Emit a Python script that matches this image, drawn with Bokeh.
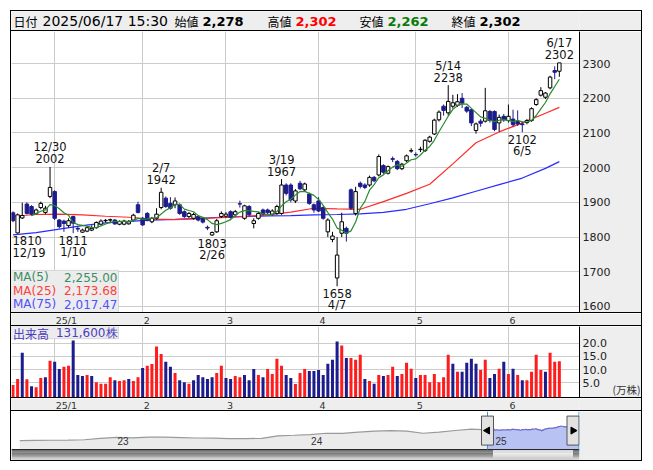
import pandas as pd
from bokeh.plotting import figure
from bokeh.layouts import column
from bokeh.models import (Range1d, FixedTicker, BoxAnnotation, ColumnDataSource,
                          PrintfTickFormatter, LinearAxis)
from bokeh.core.properties import value
from bokeh.embed import file_html
from bokeh.resources import INLINE

# ------------------------------------------------------------------ data
holidays = ["2024-12-31", "2025-01-01", "2025-01-02", "2025-01-03", "2025-01-13",
            "2025-02-11", "2025-02-24", "2025-03-20", "2025-04-29", "2025-05-05", "2025-05-06"]

opens = [1870, 1812, 1855, 1895, 1888, 1868, 1885, 1871, 1917, 1931,
         1849, 1846, 1833, 1859, 1825, 1814, 1817, 1820, 1827, 1837,
         1847, 1849, 1849, 1837, 1837, 1838, 1849, 1893, 1854, 1868,
         1844, 1854, 1885, 1912, 1897, 1893, 1893, 1873, 1859, 1854,
         1859, 1854, 1828, 1806, 1815, 1859, 1860, 1873, 1864, 1896,
         1854, 1888, 1839, 1854, 1878, 1878, 1866, 1868, 1868, 1950,
         1950, 1904, 1955, 1936, 1924, 1893, 1904, 1885, 1815, 1793,
         1682, 1811, 1825, 1936, 1868, 1955, 1950, 1950, 1972, 1979,
         2006, 1984, 2026, 2018, 1997, 2020, 2048, 2038, 2052, 2049,
         2076, 2097, 2138, 2177, 2158, 2177, 2180, 2200, 2174, 2167,
         2107, 2134, 2134, 2162, 2162, 2129, 2148, 2136, 2140, 2133,
         2126, 2130, 2136, 2182, 2209, 2203, 2230, 2280, 2278]
highs = [1874, 1868, 1899, 1900, 1892, 1882, 1902, 1890, 2002, 1935,
         1852, 1850, 1854, 1862, 1830, 1824, 1830, 1834, 1845, 1851,
         1852, 1853, 1852, 1848, 1850, 1849, 1867, 1902, 1858, 1872,
         1858, 1883, 1942, 1917, 1915, 1914, 1897, 1877, 1872, 1870,
         1863, 1857, 1833, 1816, 1852, 1874, 1872, 1877, 1878, 1905,
         1893, 1892, 1854, 1872, 1882, 1882, 1880, 1893, 1967, 1955,
         1955, 1938, 1962, 1957, 1928, 1897, 1915, 1890, 1854, 1815,
         1800, 1870, 1830, 1940, 1945, 1960, 1955, 1977, 1976, 2038,
         2010, 2006, 2032, 2022, 2014, 2038, 2056, 2044, 2060, 2082,
         2092, 2141, 2165, 2182, 2238, 2210, 2212, 2215, 2178, 2170,
         2130, 2140, 2230, 2166, 2165, 2153, 2155, 2182, 2167, 2165,
         2133, 2140, 2174, 2200, 2232, 2218, 2265, 2292, 2302]
lows = [1843, 1810, 1852, 1865, 1862, 1865, 1880, 1866, 1912, 1849,
        1825, 1815, 1828, 1811, 1815, 1812, 1814, 1817, 1824, 1834,
        1842, 1840, 1835, 1834, 1834, 1836, 1845, 1868, 1832, 1845,
        1840, 1850, 1880, 1884, 1879, 1883, 1864, 1855, 1855, 1850,
        1845, 1839, 1820, 1803, 1812, 1855, 1856, 1853, 1860, 1885,
        1850, 1860, 1825, 1850, 1862, 1866, 1862, 1864, 1864, 1920,
        1900, 1898, 1935, 1930, 1893, 1870, 1872, 1850, 1800, 1785,
        1658, 1800, 1787, 1878, 1862, 1940, 1938, 1945, 1958, 1975,
        1982, 1980, 2016, 1993, 1993, 2016, 2043, 2032, 2045, 2045,
        2072, 2094, 2133, 2150, 2150, 2170, 2175, 2172, 2158, 2120,
        2098, 2118, 2130, 2130, 2105, 2104, 2132, 2130, 2118, 2120,
        2102, 2125, 2132, 2178, 2205, 2198, 2226, 2255, 2262]
closes = [1847, 1864, 1862, 1868, 1866, 1878, 1897, 1883, 1943, 1854,
          1830, 1839, 1847, 1840, 1823, 1820, 1827, 1825, 1842, 1846,
          1848, 1850, 1838, 1845, 1846, 1844, 1863, 1871, 1835, 1849,
          1854, 1866, 1929, 1888, 1883, 1904, 1868, 1859, 1868, 1865,
          1849, 1843, 1826, 1813, 1847, 1868, 1866, 1857, 1873, 1895,
          1890, 1864, 1847, 1868, 1866, 1870, 1875, 1888, 1950, 1926,
          1907, 1933, 1939, 1953, 1897, 1878, 1875, 1854, 1849, 1803,
          1748, 1844, 1811, 1883, 1931, 1946, 1943, 1972, 1962, 2032,
          1987, 2003, 2024, 1997, 2010, 2034, 2049, 2037, 2053, 2079,
          2088, 2137, 2160, 2165, 2191, 2187, 2190, 2186, 2163, 2129,
          2126, 2128, 2164, 2136, 2110, 2145, 2138, 2148, 2124, 2126,
          2124, 2136, 2170, 2196, 2222, 2215, 2261, 2275, 2302]
volumes = [4.2, 6.5, 16.4, 6.4, 3.8, 3.4, 6.9, 7.2, 13.4, 13.0,
           10.3, 11.1, 11.5, 21.0, 8.0, 7.6, 8.0, 7.6, 5.3, 4.7,
           4.7, 7.2, 6.0, 5.7, 6.0, 6.5, 5.7, 7.2, 10.6, 11.5,
           12.1, 18.7, 15.9, 13.0, 11.1, 8.8, 6.0, 5.3, 4.7, 6.0,
           8.0, 7.2, 6.5, 7.2, 8.8, 11.5, 6.9, 6.5, 7.6, 7.2,
           8.0, 6.0, 10.3, 8.0, 7.2, 10.3, 8.4, 14.1, 11.5, 8.0,
           6.9, 4.6, 8.8, 10.3, 9.5, 9.5, 9.9, 8.0, 12.2, 13.7,
           20.6, 19.1, 14.4, 14.4, 13.7, 15.6, 6.5, 5.7, 4.7, 8.0,
           7.6, 8.0, 11.1, 7.6, 8.4, 12.6, 10.4, 6.9, 8.0, 8.0,
           5.3, 8.4, 5.3, 7.2, 15.6, 12.2, 9.2, 9.2, 12.6, 14.1,
           12.2, 9.9, 13.7, 6.9, 8.4, 10.4, 13.0, 8.4, 10.4, 8.0,
           6.0, 6.0, 9.2, 15.6, 9.9, 9.2, 16.4, 13.0, 13.16]  # 万株

ma_idx = [0, 5, 10, 15, 20, 25, 30, 35, 40, 45, 50, 55, 60, 65, 70, 75, 80, 85, 90, 95,
          100, 105, 110, 115, 118]
ma25_vals = [1860, 1865, 1866, 1864, 1860, 1857, 1852, 1850, 1853, 1856, 1860, 1864, 1872,
             1883, 1881, 1880, 1902, 1926, 1952, 2011, 2072, 2103, 2129, 2157, 2173.68]
ma75_vals = [1806, 1813, 1823, 1833, 1841, 1845, 1849, 1851, 1854, 1857, 1859, 1861, 1862,
             1864, 1865, 1867, 1871, 1880, 1896, 1913, 1932, 1951, 1970, 1998, 2017.47]

high_marks = [8, 32, 58, 94, 118]
low_marks = [1, 13, 43, 70, 110]

# navigator: monthly closes before the displayed period (Jul 2022 - Nov 2024)
nav_hist = [843, 862, 872, 891, 920, 1054, 1150, 1102, 1169, 1160, 1121, 1083, 1073, 1035,
            1025, 1054, 1293, 1341, 1408, 1533, 1514, 1629, 1724, 1782, 1724, 1533, 1629,
            1791, 1916]
nav_year_labels = ["23", "24", "25"]
nav_year_month = [6, 18]   # positions (months) of Jan 2023 / Jan 2024 in nav_hist

# ------------------------------------------------------------------ derived
dates = [d for d in pd.bdate_range("2024-12-18", "2025-06-17")
         if d.strftime("%Y-%m-%d") not in holidays]
n = len(dates)
idx = list(range(n))
month_ticks = [i for i in idx if i > 0 and dates[i].month != dates[i - 1].month]
month_labels = [(f"{dates[i].year % 100}/{dates[i].month}" if dates[i].month == 1
                 else str(dates[i].month)) for i in month_ticks]
ma5 = pd.Series(closes, dtype=float).rolling(5).mean().tolist()

FONT = "DejaVu Sans"
JFONT = "Noto Sans CJK JP"
NAVY = "#1c1c8c"
RED = "#ff1c1c"
GRAY_BG = "#eeeeee"
GRID = "#cccccc"

FW = 630          # content width of each panel (inside the 1px borders)
RB = 62           # right label strip
FRAME_W = FW - RB
DAY_PX = 4.63
x0 = -1.5 / DAY_PX
x1 = x0 + FRAME_W / DAY_PX

BORDER = {"border-left": "1px solid black", "border-right": "1px solid black",
          "border-bottom": "1px solid black"}


def base(height, xr, yr, extra_h=1, **kw):
    # css borders are drawn inside the element box (border-box), so add them to the size
    f = figure(width=FW + 2, height=height + extra_h, x_range=xr, y_range=yr,
               toolbar_location=None, output_backend="svg",
               min_border_left=0, min_border_top=0, min_border_bottom=0,
               min_border_right=RB, outline_line_color=None, **kw)
    return f


def style_axis(ax):
    ax.major_tick_line_color = None
    ax.minor_tick_line_color = None
    ax.major_tick_out = 0
    ax.major_tick_in = 0
    ax.minor_tick_out = 0
    ax.minor_tick_in = 0
    ax.major_label_standoff = 3
    ax.major_label_text_font = FONT
    ax.major_label_text_font_size = "11px"
    ax.major_label_text_color = "#222222"


# ------------------------------------------------------------------ header
hdr = base(19, Range1d(0, FRAME_W), Range1d(0, 19), extra_h=2,
           x_axis_location=None, y_axis_location=None,
           background_fill_color=GRAY_BG, border_fill_color=GRAY_BG)
hdr.grid.visible = False
hdr.styles = {"border": "1px solid black"}
last = n - 1
d_last = dates[last]
hdr_items = [
    (2, "日付", JFONT, "12px", "normal", "black"),
    (31, f"{d_last.year}/{d_last.month:02d}/{d_last.day:02d} 15:30", FONT, "14px", "normal", "black"),
    (163, "始値", JFONT, "12px", "normal", "black"),
    (191, f"{opens[last]:,}", FONT, "13px", "bold", "black"),
    (256, "高値", JFONT, "12px", "normal", "black"),
    (284, f"{highs[last]:,}", FONT, "13px", "bold", "#ff0000"),
    (348, "安値", JFONT, "12px", "normal", "black"),
    (376, f"{lows[last]:,}", FONT, "13px", "bold", "#0a7a0a"),
    (440, "終値", JFONT, "12px", "normal", "black"),
    (468, f"{closes[last]:,}", FONT, "13px", "bold", "black"),
]
for hx, t, fnt, fs, fst, col in hdr_items:
    hdr.text(x=[hx], y=[10], text=[t], text_font=value(fnt), text_font_size=fs,
             text_font_style=fst, text_color=col, text_align="left", text_baseline="middle")

# ------------------------------------------------------------------ main chart
y_bot, y_top = 1579.6, 2392.5
MAIN_H = 281
PY = MAIN_H / (y_top - y_bot)
p = base(MAIN_H, Range1d(x0, x1), Range1d(y_bot, y_top),
         x_axis_location=None, y_axis_location="right",
         background_fill_color="white", border_fill_color=GRAY_BG)
p.styles = BORDER
price_ticks = list(range(1600, 2301, 100))
p.yaxis.ticker = FixedTicker(ticks=price_ticks)
style_axis(p.yaxis[0])
p.yaxis.axis_line_color = "black"
p.ygrid.ticker = FixedTicker(ticks=price_ticks)
p.xgrid.ticker = FixedTicker(ticks=month_ticks)
p.grid.grid_line_color = GRID

up = [c >= o for o, c in zip(opens, closes)]
src = ColumnDataSource(dict(
    x=idx, h=highs, l=lows,
    top=[max(o, c) for o, c in zip(opens, closes)],
    bottom=[min(o, c) for o, c in zip(opens, closes)],
    fill=["white" if u else NAVY for u in up],
    line=["black" if u else NAVY for u in up]))

# MA legend box (bottom-left), under the glyphs
box_r = x0 + 107 / DAY_PX
p.add_layout(BoxAnnotation(left=x0, right=box_r, bottom=y_bot, top=y_bot + 43 / PY,
                           fill_color="#ececec", fill_alpha=1, line_color="#9a9a9a",
                           line_width=1, level="underlay"))

p.line(ma_idx, ma75_vals, line_color="#2a2aff", line_width=1.2)
p.line(ma_idx, ma25_vals, line_color="#ff2a2a", line_width=1.2)
p.segment(x0="x", y0="h", x1="x", y1="l", line_color="line", line_width=1, source=src)
p.vbar(x="x", width=0.75, top="top", bottom="bottom", fill_color="fill",
       line_color="line", line_width=1, source=src)
p.line(idx, ma5, line_color="#2a8a2a", line_width=1.2)

ann_style = dict(text_font=value(FONT), text_font_size="11.5px", text_color="#111111",
                 text_baseline="middle")
for i in high_marks:
    for t, off in ((str(highs[i]), -8), (f"{dates[i].month}/{dates[i].day}", -19.5)):
        p.text(x=[i], y=[highs[i]], text=[t], y_offset=off, text_align="center", **ann_style)
for i in low_marks:
    left = (i * DAY_PX + 1.5) < 18
    xx = x0 + 1 / DAY_PX if left else i
    for t, off in ((str(lows[i]), 7), (f"{dates[i].month}/{dates[i].day}", 19)):
        p.text(x=[xx], y=[lows[i]], text=[t], y_offset=off,
               text_align="left" if left else "center", **ann_style)

leg = [("MA(5)", f"{ma5[-1]:,.2f}", "#3c8c64", 276),
       ("MA(25)", f"{ma25_vals[-1]:,.2f}", "#ff4040", 289.5),
       ("MA(75)", f"{ma75_vals[-1]:,.2f}", "#5050ff", 303)]
for name, val, col, py in leg:
    yy = y_top - (py - 31) / PY
    p.text(x=[x0 + 1.5 / DAY_PX], y=[yy], text=[name], text_color=col, text_align="left",
           text_baseline="middle", text_font=value(FONT), text_font_size="12px")
    p.text(x=[x0 + 106 / DAY_PX], y=[yy], text=[val], text_color=col, text_align="right",
           text_baseline="middle", text_font=value(FONT), text_font_size="12px")


# ------------------------------------------------------------------ date strips
def strip():
    s = base(12, p.x_range, Range1d(0, 1),
             x_axis_location=None, y_axis_location=None,
             background_fill_color=GRAY_BG, border_fill_color=GRAY_BG)
    s.grid.visible = False
    s.styles = BORDER
    s.text(x=month_ticks, y=[0.5] * len(month_ticks), text=month_labels, x_offset=1,
           text_align="left", text_baseline="middle", text_font=value(FONT),
           text_font_size="9.5px", text_color="#333333")
    return s


strip1 = strip()
strip2 = strip()

# ------------------------------------------------------------------ volume
v_bot, v_top = -0.84, 26.26
VOL_H = 71
VPY = VOL_H / (v_top - v_bot)
v = base(VOL_H, p.x_range, Range1d(v_bot, v_top),
         x_axis_location=None, y_axis_location="right",
         background_fill_color="white", border_fill_color=GRAY_BG)
v.styles = BORDER
vol_ticks = [5, 10, 15, 20]
v.yaxis.ticker = FixedTicker(ticks=vol_ticks)
v.yaxis.formatter = PrintfTickFormatter(format="%.1f")
style_axis(v.yaxis[0])
v.yaxis.axis_line_color = "black"
v.ygrid.ticker = FixedTicker(ticks=vol_ticks)
v.xgrid.ticker = FixedTicker(ticks=month_ticks)
v.grid.grid_line_color = GRID
# unit label "(万株)" as a second right axis with a single tick
unit_axis = LinearAxis(ticker=FixedTicker(ticks=[2]), major_label_overrides={2: "(万株)"},
                       axis_line_color=None)
style_axis(unit_axis)
unit_axis.major_label_text_font = JFONT
unit_axis.major_label_text_font_size = "10.5px"
unit_axis.major_label_text_color = "#333333"
v.add_layout(unit_axis, "right")

v.add_layout(BoxAnnotation(left=x0, right=box_r, top=v_top, bottom=v_top - 12 / VPY,
                           fill_color="#ececec", fill_alpha=1, line_color="#9a9a9a",
                           level="underlay"))
vol_up = [True] + [closes[i] >= closes[i - 1] for i in idx[1:]]
v.vbar(x=idx, width=0.65, top=volumes, bottom=v_bot,
       fill_color=[RED if u else NAVY for u in vol_up], line_color=None)
vy = v_top - 6.5 / VPY
v.text(x=[x0 + 1.5 / DAY_PX], y=[vy], text=["出来高"], text_align="left", text_baseline="middle",
       text_font=value(JFONT), text_font_size="12px", text_color="#4a3cc0")
v.text(x=[x0 + 106 / DAY_PX], y=[vy], text=[f"{round(volumes[-1] * 10000):,}株"],
       text_align="right", text_baseline="middle", text_font=value(FONT),
       text_font_size="12px", text_color="#4a3cc0")

# ------------------------------------------------------------------ navigator
NAV_PX = (578.5 - 487) / idx[-1]      # px per trading day in the navigator
nx0 = -(487 - 11) / NAV_PX
nx1 = nx0 + FRAME_W / NAV_PX
ny0, ny1 = -1121, 3573
NPY = 49 / (ny1 - ny0)
MONTH_DAYS = 20.8
hist_x = [-(len(nav_hist) - m) * MONTH_DAYS for m in range(len(nav_hist))]
all_x = hist_x + idx
all_y = nav_hist + closes

nv = base(49, Range1d(nx0, nx1), Range1d(ny0, ny1),
          x_axis_location=None, y_axis_location=None,
          background_fill_color="white", border_fill_color=GRAY_BG)
nv.grid.visible = False
nv.styles = BORDER
nv.varea(x=all_x, y1=0, y2=all_y, fill_color="#ebebeb")
nv.varea(x=idx, y1=0, y2=closes, fill_color="#b8c2f3")
nv.line(hist_x + [0], nav_hist + [closes[0]], line_color="#9a9a9a", line_width=1.2)
nv.line(idx, closes, line_color="#6a6ac8", line_width=1.2)
yr_x = [hist_x[m] for m in nav_year_month] + [month_ticks[0]]
nv.text(x=yr_x, y=[(448.3 - 440) / NPY] * 3, text=nav_year_labels, x_offset=1,
        text_align="left", text_baseline="middle", text_font=value("Liberation Sans"),
        text_font_size="10px", text_color="#333333")

# scrollbar (gradient bands)
nb = 11
band_h = (0 - ny0) / nb
dark = [(0x55 + (0xdd - 0x55) * k // (nb - 1)) for k in range(nb)]
nv.quad(left=[nx0] * nb, right=[nx1] * nb,
        top=[-k * band_h for k in range(nb)], bottom=[-(k + 1) * band_h for k in range(nb)],
        fill_color=[f"#{c:02x}{c:02x}{c:02x}" for c in dark], line_color=None)
th_l = 5.5 / NAV_PX
th_r = idx[-1] - 6 / NAV_PX
light = [(0xfc - (0xfc - 0xc4) * k // (nb - 1)) for k in range(nb)]
nv.quad(left=[th_l] * nb, right=[th_r] * nb,
        top=[-k * band_h for k in range(nb)], bottom=[-(k + 1) * band_h for k in range(nb)],
        fill_color=[f"#{c:02x}{c:02x}{c:02x}" for c in light], line_color=None)
nv.segment(x0=[nx0], y0=[0], x1=[nx1], y1=[0], line_color="#222222", line_width=1)

# selection lines and handles (right handle kept inside the panel)
sel = [idx[0], idx[-1]]
nv.segment(x0=sel, y0=[0, 0], x1=sel, y1=[ny1, ny1], line_color="#29a3d6", line_width=1)
hy = (448.3 - 429.7) / NPY
handle_x = [idx[0], idx[-1] - 6 / NAV_PX]
nv.rect(x=handle_x, y=[hy, hy], width=12, height=29, width_units="screen",
        height_units="screen", fill_color="#e2e2e2", line_color="#555555", line_width=1)
nv.scatter(x=handle_x, y=[hy, hy], marker="triangle", size=7, angle=[1.5708, -1.5708],
           fill_color="black", line_color="black")

layout = column(hdr, p, strip1, v, strip2, nv, spacing=0)
layout.styles = {"margin": "10px 0 0 10px"}

open("out.html", "w").write(file_html(layout, INLINE))
